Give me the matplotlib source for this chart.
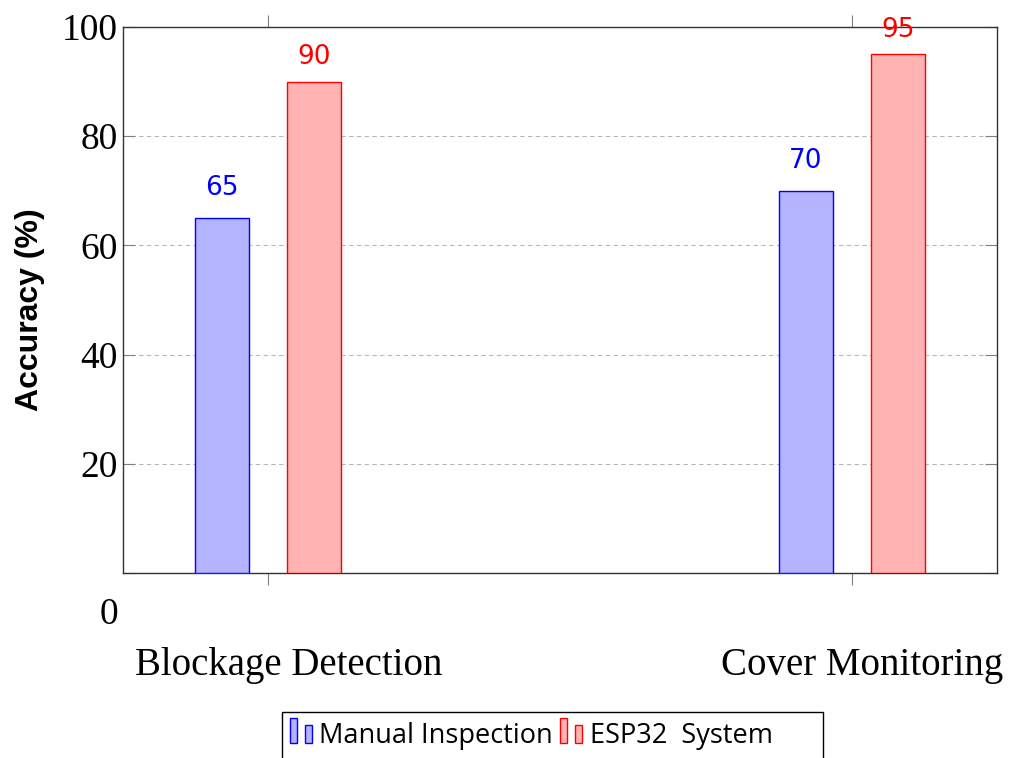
import matplotlib.pyplot as plt
from matplotlib.patches import Rectangle
import numpy as np

categories = ['Blockage Detection', 'Cover Monitoring']
manual = [65, 70]
esp32 = [90, 95]
series_names = ['Manual Inspection', 'ESP32  System']
y_ticks = [0, 20, 40, 60, 80, 100]

blue_fill = '#b3b3ff'
red_fill = '#ffb3b3'

W, H = 1013, 758
fig = plt.figure(figsize=(W / 100, H / 100), dpi=100)
ax = fig.add_axes([123 / W, 1 - 573 / H, 874 / W, 546 / H])

x = np.arange(len(categories))
off = 0.0788
bw = 0.0925
b1 = ax.bar(x - off, manual, bw, color=blue_fill, edgecolor='blue', linewidth=1, zorder=3)
b2 = ax.bar(x + off, esp32, bw, color=red_fill, edgecolor='red', linewidth=1, zorder=3)

ax.bar_label(b1, padding=12, color='blue', fontsize=19, family='DejaVu Sans')
ax.bar_label(b2, padding=8, color='red', fontsize=19, family='DejaVu Sans')

ax.set_xlim(-0.248, 1.248)
ax.set_ylim(0, 100)

ax.set_yticks(y_ticks)
ax.set_yticklabels([''] + [str(v) for v in y_ticks[1:]],
                   family='Liberation Serif', fontsize=27)
ax.tick_params(axis='y', direction='in', length=8.6, width=0.8, color='#808080',
               left=True, right=True, pad=4)
ax.set_xticks(x)
ax.set_xticklabels([])
ax.tick_params(axis='x', direction='out', length=8.6, width=0.8, color='#808080',
               top=True, bottom=True)

ax.grid(axis='y', linestyle=(0, (4, 3)), color='#b8b8b8', linewidth=0.8, zorder=0)

for s in ax.spines.values():
    s.set_color('#333333')
    s.set_linewidth(1.0)

# the "0" label sits well below the axis
ax.annotate('0', xy=(0, 0), xycoords='axes fraction', xytext=(-5, -42),
            textcoords='offset pixels', ha='right', va='center',
            family='Liberation Serif', fontsize=27)

# category labels
label_x = [289, 862]
for lx, name in zip(label_x, categories):
    fig.text(lx / W, 1 - 665 / H, name, ha='center', va='center',
             family='Liberation Serif', fontsize=28)

fig.text(30 / W, 1 - 310 / H, 'Accuracy (%)', rotation=90, ha='center', va='center',
         family='Liberation Sans', fontweight='bold', fontsize=23)

# legend drawn by hand, box runs off the bottom edge
def px(xp, yp):
    return (xp / W, 1 - yp / H)

fig.add_artist(Rectangle(px(282, 770), 541 / W, 58 / H, transform=fig.transFigure,
                         facecolor='white', edgecolor='black', linewidth=1))
for x0, fc, ec, name, tx in [(290, blue_fill, 'blue', series_names[0], 319),
                             (560, red_fill, 'red', series_names[1], 590)]:
    fig.add_artist(Rectangle(px(x0, 743), 7 / W, 25 / H, transform=fig.transFigure,
                             facecolor=fc, edgecolor=ec, linewidth=1))
    fig.add_artist(Rectangle(px(x0 + 15, 743), 7 / W, 18 / H, transform=fig.transFigure,
                             facecolor=fc, edgecolor=ec, linewidth=1))
    fig.text(tx / W, 1 - 736 / H, name, ha='left', va='center',
             family='Open Sans', fontsize=19.5)

fig.savefig('out.png', dpi=100)
